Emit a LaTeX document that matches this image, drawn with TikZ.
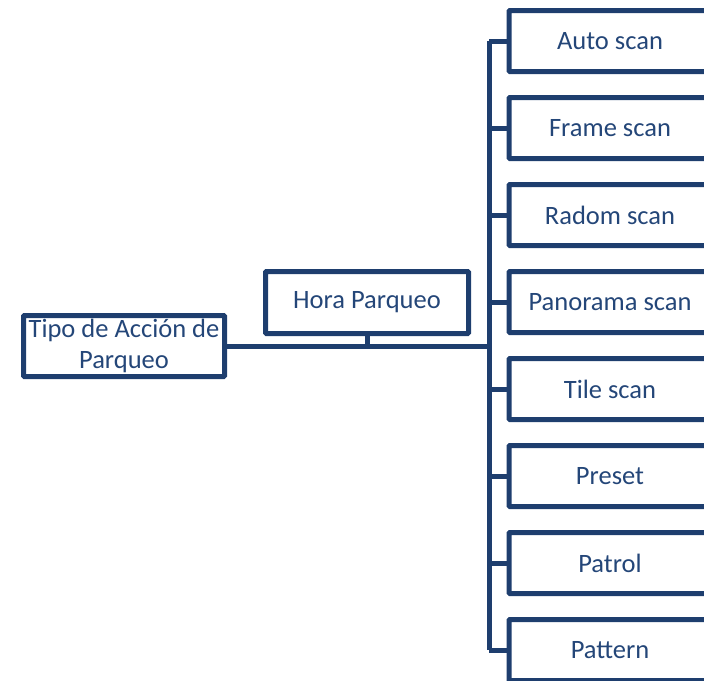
\documentclass[tikz,border=0pt]{standalone}
\usepackage{fontspec}
\setmainfont{Carlito}
\usetikzlibrary{positioning,calc}
\definecolor{navy}{RGB}{30,62,110}
\definecolor{navytxt}{RGB}{36,70,120}

\begin{document}
\begin{tikzpicture}[
    x=1pt, y=-1pt,
    font=\fontsize{26.5}{31}\selectfont,
    % --- node styles ---
    box/.style  = {rectangle, draw=navy, line width=5pt, text=navytxt,
                   rounded corners=1pt, align=center,
                   minimum width=202pt, minimum height=61pt,
                   inner sep=2pt},
    wire/.style = {draw=navy, line width=5pt},
]
\clip (0,0) rectangle (704,680);

%============ LEFT SIDE ============
\node (tipo) [box, minimum width=201pt] at (124,346)
  {Tipo de Acción de\\Parqueo};

\node (hora) [box, minimum width=203pt, minimum height=62pt] at (367,302.5)
  {Hora Parqueo};

%============ RIGHT COLUMN ============
\foreach \name/\txt [count=\i from 0] in {
  auto/Auto scan, frame/Frame scan, radom/Radom scan,
  panorama/Panorama scan, tile/Tile scan, preset/Preset,
  patrol/Patrol, pattern/Pattern}
  \node (\name) [box] at (610,41+87*\i) {\txt};

%============ CONNECTORS ============
\coordinate (bus) at (489,346);
\coordinate (bustop) at (489,41);
\coordinate (busbot) at (489,650);

\draw[wire] (tipo.east) -- (bus);
\draw[wire] (hora.south) -- (hora.south |- bus);
\draw[wire] (bustop) -- (busbot);

\foreach \name in {auto,frame,radom,panorama,tile,preset,patrol,pattern}
  \draw[wire] (bus |- \name.west) -- (\name.west);

\end{tikzpicture}
\end{document}
